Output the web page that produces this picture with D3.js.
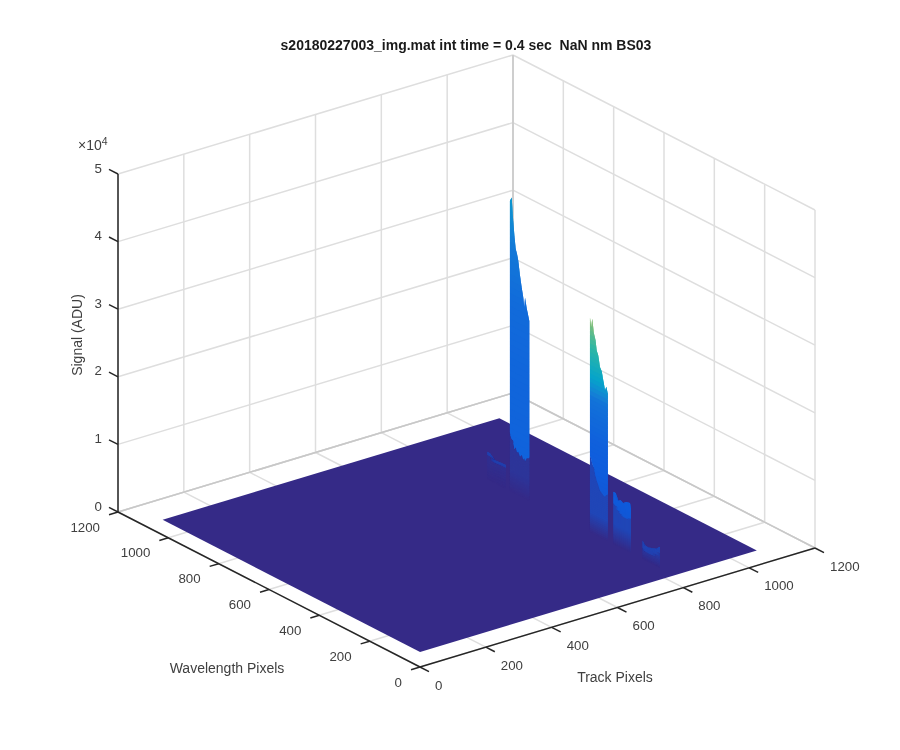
<!DOCTYPE html>
<html><head><meta charset="utf-8">
<style>html,body{margin:0;background:#fff}svg{display:block;filter:blur(0.35px)}text{font-family:"Liberation Sans",Arial,sans-serif;fill:#404040}</style>
<script src="https://cdn.jsdelivr.net/npm/d3@7"></script></head><body><svg id="c" width="900" height="750"></svg>
<script>
const titleText = "s20180227003_img.mat int time = 0.4 sec\u00a0\u00a0NaN nm BS03";
const horizontalTicks = [0,200,400,600,800,1000,1200];
const signalTicks = [0,10000,20000,30000,40000,50000];
const floorSignal = 2200;
const trackExtent = [1,1024];
const wavelengthExtent = [1,1024];
const ridgeTrack = 774;
// parula colormap
const parulaStops = ["#352a87","#0f5cdd","#1481d6","#06a4ca","#2eb7a4","#87bf77","#d1bb59","#fec832"];

// Spectral orders: wavelength pixel, ridge top, and where the bright face begins
const order0Wave = [745,734,714,688,671];
const order0Top  = [6240,6250,5590,5660,5690];
const order0Edge = [5800,5800,5200,5300,5300];
const order1Wave = [655,648,642,637,632,627,622,615,608,602,598,595,588,578];
const order1Top  = [45100,45700,42400,40200,38400,37800,36900,34800,33100,31800,30400,31900,30400,28800];
const order1Edge = [10800,10000,9900,8700,9100,8400,8600,8000,8400,7800,8100,7700,8300,8500];
const order2Wave = [337,332,328,321,315,310,304,297,290,284,277,272,266];
const order2Top  = [33900,32600,33900,31800,31000,29500,28900,27300,26800,25600,24300,24900,24000];
const order2Edge = [13500,13100,12500,12000,10900,10300,9800,9000,8800,8600,8500,8900,9000];
const order3Wave = [244,235,224,215,205,192,178,174];
const order3Top  = [9900,9900,9000,9200,9000,9400,9500,8900];
const order3Edge = [8200,8000,7500,7200,6900,6900,7200,7300];
const order4Wave = [128,118,105,92,75,59];
const order4Top  = [4900,4400,4300,4500,4700,5300];
const order4Edge = [3800,3500,3450,3500,3900,4400];

// [signal, colormap position] for each order's bright face
const order0Bright = [[2200,.04],[6300,.08]];
const order1Bright = [[8000,.17],[20000,.18],[30000,.20],[38000,.25],[46000,.38]];
const order2Bright = [[8000,.13],[16000,.16],[22000,.23],[25000,.42],[29000,.55],[34000,.73]];
const order3Bright = [[4000,.12],[10000,.15]];
const order4Bright = [[3000,.07],[5500,.09]];
const order0Dark = .015, order1Dark = .03, order2Dark = .08, order3Dark = .08, order4Dark = .05;

const tF = d3.scaleLinear([0,1200],[0,1]);
const wF = d3.scaleLinear([0,1200],[0,1]);
const zF = d3.scaleLinear([0,50000],[0,338]);
const O = {x:420,y:667}, T = {x:395,y:-119}, W = {x:-302,y:-155};
const P = (t,w,z)=>[O.x+tF(t)*T.x+wF(w)*W.x, O.y+tF(t)*T.y+wF(w)*W.y-zF(z)];
const parula = d3.scaleLinear(parulaStops.map((_,i)=>i/(parulaStops.length-1)),parulaStops).interpolate(d3.interpolateRgb);

const svg = d3.select("#c");
const seg = (g,a,b,stroke,sw)=>g.append("line").attr("x1",a[0]).attr("y1",a[1]).attr("x2",b[0]).attr("y2",b[1]).attr("stroke",stroke).attr("stroke-width",sw);

// grid on floor and the two walls
const grid = svg.append("g");
const gc = "#dedede", gw = 1.5;
const tMax=1200,wMax=1200,zMax=50000;
horizontalTicks.forEach(v=>{
  seg(grid,P(v,0,0),P(v,wMax,0),gc,gw);
  seg(grid,P(0,v,0),P(tMax,v,0),gc,gw);
  seg(grid,P(v,wMax,0),P(v,wMax,zMax),gc,gw);
  seg(grid,P(tMax,v,0),P(tMax,v,zMax),gc,gw);
});
signalTicks.forEach(v=>{
  seg(grid,P(0,wMax,v),P(tMax,wMax,v),gc,gw);
  seg(grid,P(tMax,0,v),P(tMax,wMax,v),gc,gw);
});
seg(grid,P(tMax,wMax,0),P(tMax,wMax,zMax),"#c8c8c8",1.5);
seg(grid,P(tMax,wMax,0),P(tMax,0,0),"#c8c8c8",1.5);
seg(grid,P(tMax,wMax,0),P(0,wMax,0),"#c8c8c8",1.5);

// floor of the surface
const corners = [[trackExtent[0],wavelengthExtent[0]],[trackExtent[1],wavelengthExtent[0]],[trackExtent[1],wavelengthExtent[1]],[trackExtent[0],wavelengthExtent[1]]];
svg.append("path").attr("d",d3.line()(corners.map(c=>P(c[0],c[1],floorSignal)))+"Z").attr("fill",parula(0));

// ridge faces, sliced by signal so colours follow height
function face(g,wave,lo,hi,colorAt,zStart,zEnd){
  const n=40, overlap=(zEnd-zStart)/n;
  const a=d3.area().x(d=>d.x).y0(d=>d.y0).y1(d=>d.y1);
  for(let i=0;i<n;i++){
    const z0=zStart+(zEnd-zStart)*i/n, z1=zStart+(zEnd-zStart)*(i+1)/n;
    const pts=wave.map((w,k)=>{
      const l=Math.max(lo[k],z0), h=Math.min(hi[k],z1+overlap);
      return {x:P(ridgeTrack,w,0)[0],y0:P(ridgeTrack,w,h>l?l:h)[1],y1:P(ridgeTrack,w,h)[1]};
    });
    g.append("path").attr("d",a(pts)).attr("fill",colorAt((z0+z1)/2));
  }
}
const orders=[
 [order0Wave,order0Top,order0Edge,order0Bright,order0Dark],
 [order1Wave,order1Top,order1Edge,order1Bright,order1Dark],
 [order2Wave,order2Top,order2Edge,order2Bright,order2Dark],
 [order3Wave,order3Top,order3Edge,order3Bright,order3Dark],
 [order4Wave,order4Top,order4Edge,order4Bright,order4Dark]
];
const ridge=svg.append("g");
orders.forEach(([wave,top,edge,bright,dark])=>{
  const map=d3.scaleLinear(bright.map(b=>b[0]),bright.map(b=>b[1])).clamp(true);
  const floorArr=wave.map(()=>floorSignal);
  const rise=Math.min(3000,(d3.max(edge)-floorSignal)*.8);
  face(ridge,wave,floorArr,edge,z=>parula(dark*Math.min(1,(z-floorSignal)/rise)),floorSignal,d3.max(edge));
  face(ridge,wave,edge,top,z=>parula(map(z)),d3.min(edge),d3.max(top));
});

// axes
const ax=svg.append("g"), ac="#262626", aw=1.5;
seg(ax,P(0,wMax,0),P(0,wMax,zMax),ac,aw);
seg(ax,P(0,0,0),P(0,wMax,0),ac,aw);
seg(ax,P(0,0,0),P(tMax,0,0),ac,aw);
const lab=(x,y,s,anchor,fs)=>svg.append("text").attr("x",x).attr("y",y).attr("text-anchor",anchor).attr("dominant-baseline","central").attr("font-size",fs).text(s);
horizontalTicks.forEach(v=>{
  const a=P(v,0,0); seg(ax,a,[a[0]+9,a[1]+4.6],ac,aw);
  lab(a[0]+15,a[1]+18,v,"start",13.3);
  const b=P(0,v,0); seg(ax,b,[b[0]-9,b[1]+2.7],ac,aw);
  lab(b[0]-18,b[1]+15,v,"end",13.3);
});
signalTicks.forEach(v=>{
  const a=P(0,wMax,v); seg(ax,a,[a[0]-9,a[1]-4.6],ac,aw);
  lab(102,a[1]-6,v/10000,"end",13.3);
});
const ex=svg.append("text").attr("x",78).attr("y",150).attr("font-size",14);
ex.append("tspan").text("\u00d710");
ex.append("tspan").attr("dy",-5).attr("font-size",10.5).text("4");
lab(227,668,"Wavelength Pixels","middle",14);
lab(615,677,"Track Pixels","middle",14);
svg.append("text").attr("transform","translate(77,335) rotate(-90)").attr("text-anchor","middle").attr("dominant-baseline","central").attr("font-size",14).text("Signal (ADU)");
svg.append("text").attr("x",466).attr("y",45).attr("text-anchor","middle").attr("dominant-baseline","central").attr("font-size",14).attr("font-weight","bold").style("fill","#1a1a1a").text(titleText);
</script></body></html>
